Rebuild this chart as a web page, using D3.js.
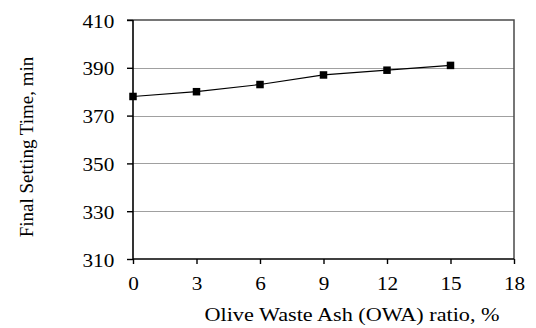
<!DOCTYPE html>
<html>
<head>
<meta charset="utf-8">
<script src="https://cdn.jsdelivr.net/npm/d3@7"></script>
<style>
  html, body { margin: 0; padding: 0; background: #fff; }
  svg text { font-family: "Liberation Serif", "Times New Roman", serif; fill: #000; }
</style>
</head>
<body>
<div id="chart"></div>
<script>
// final setting time vs OWA replacement ratio
const owaRatio = [0, 3, 6, 9, 12, 15];
const settingTime = [378, 380, 383, 387, 389, 391];
const xTicks = [0, 3, 6, 9, 12, 15, 18];
const yTicks = [310, 330, 350, 370, 390, 410];

const WIDTH = 536;
const HEIGHT = 328;
const PLOT = { left: 133, right: 514, top: 20, bottom: 259 };
const FONT_SIZE = 19.5;
const STRETCH = 1.09; // the source picture is a bit wider than tall

const svg = d3.select("#chart")
  .append("svg")
  .attr("width", WIDTH)
  .attr("height", HEIGHT);

const x = d3.scaleLinear().domain([0, 18]).range([PLOT.left, PLOT.right]);
const y = d3.scaleLinear().domain([310, 410]).range([PLOT.bottom, PLOT.top]);

// gridlines
svg.append("g")
  .selectAll("line")
  .data(yTicks.filter((d) => d !== 310 && d !== 410))
  .join("line")
  .attr("x1", PLOT.left)
  .attr("x2", PLOT.right)
  .attr("y1", (d) => Math.round(y(d)) + 0.5)
  .attr("y2", (d) => Math.round(y(d)) + 0.5)
  .attr("stroke", "#a0a0a0")
  .attr("stroke-width", 1);

// top and right border
svg.append("path")
  .attr("d", `M${PLOT.left - 6},${PLOT.top} H${PLOT.right} V${PLOT.bottom}`)
  .attr("fill", "none")
  .attr("stroke", "#4a4a4a")
  .attr("stroke-width", 1.5);

// axes
const yAxis = svg.append("g")
  .attr("transform", `translate(${PLOT.left},0)`)
  .call(d3.axisLeft(y).tickValues(yTicks).tickSize(6).tickPadding(11.2));

const xAxis = svg.append("g")
  .attr("transform", `translate(0,${PLOT.bottom})`)
  .call(d3.axisBottom(x).tickValues(xTicks).tickSize(5).tickPadding(12.5));

[yAxis, xAxis].forEach((ax) => {
  ax.select(".domain").attr("stroke", "#000").attr("stroke-width", 1.6);
  ax.selectAll(".tick line").attr("stroke", "#000").attr("stroke-width", 1.4);
  ax.selectAll("text")
    .attr("font-size", FONT_SIZE)
    .attr("fill", "#000")
    .attr("transform", `scale(${STRETCH},1)`);
});
yAxis.selectAll("text").attr("dy", "0.36em");
xAxis.select(".domain").attr("d", `M${PLOT.left},0H${PLOT.right}`);
yAxis.select(".domain").attr("d", `M0,${PLOT.bottom}V${PLOT.top}`);

// series line + square markers
const points = owaRatio.map((r, i) => ({ r, t: settingTime[i] }));

svg.append("path")
  .datum(points)
  .attr("fill", "none")
  .attr("stroke", "#000")
  .attr("stroke-width", 1.2)
  .attr("d", d3.line().x((d) => x(d.r)).y((d) => y(d.t)));

const MARK = 7.5;
svg.append("g")
  .selectAll("rect")
  .data(points)
  .join("rect")
  .attr("x", (d) => x(d.r) - MARK / 2)
  .attr("y", (d) => y(d.t) - MARK / 2)
  .attr("width", MARK)
  .attr("height", MARK)
  .attr("fill", "#000");

// axis titles
svg.append("text")
  .attr("transform", `translate(352,321) scale(1.14,1)`)
  .attr("text-anchor", "middle")
  .attr("font-size", FONT_SIZE)
  .text("Olive Waste Ash (OWA) ratio, %");

svg.append("text")
  .attr("transform", "translate(33,147) rotate(-90)")
  .attr("text-anchor", "middle")
  .attr("font-size", 19)
  .text("Final Setting Time,  min");
</script>
</body>
</html>
